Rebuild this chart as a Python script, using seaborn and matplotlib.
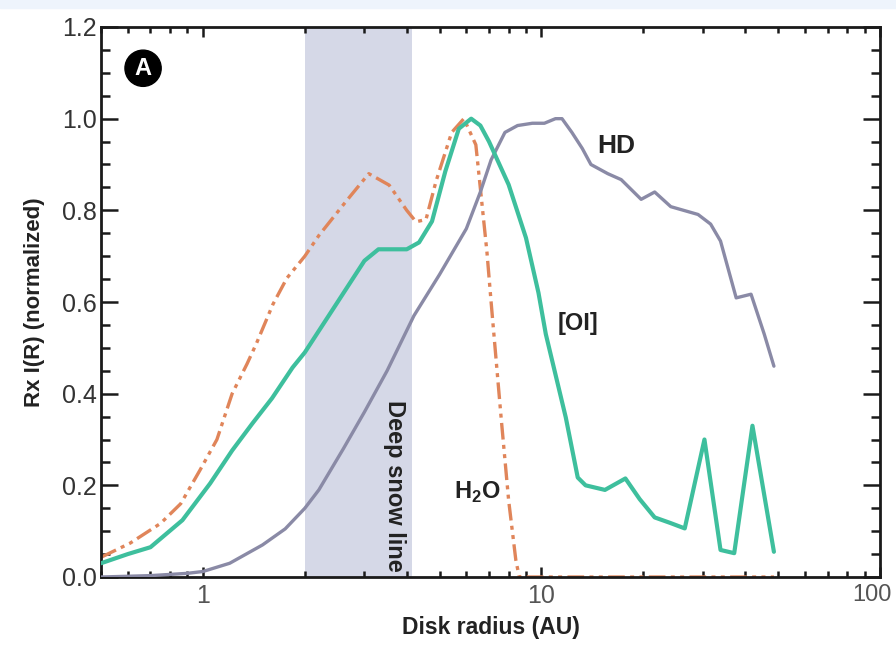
import matplotlib
matplotlib.use("Agg")
import matplotlib.pyplot as plt
import seaborn as sns
import pandas as pd
from matplotlib.ticker import FixedLocator, NullFormatter, MultipleLocator
from matplotlib.patches import Rectangle
from matplotlib.transforms import ScaledTranslation

# ---- data ----
hd_x = [0.5, 0.7, 0.9, 1.0, 1.2, 1.5, 1.75, 2.0, 2.2, 2.6, 3.0, 3.5, 4.2, 5.0, 6.0, 6.6,
        7.1, 7.8, 8.5, 9.4, 10.2, 11.0, 11.5, 12.3, 13.2, 14.0, 15.7, 17.2, 19.7, 21.6,
        24.1, 29.0, 31.6, 33.8, 37.6, 41.6, 45.5, 48.6]
hd_y = [0.0, 0.003, 0.008, 0.012, 0.03, 0.07, 0.105, 0.15, 0.19, 0.28, 0.36, 0.45, 0.57,
        0.66, 0.76, 0.84, 0.91, 0.97, 0.985, 0.99, 0.99, 1.0, 1.0, 0.97, 0.935, 0.90, 0.88,
        0.867, 0.824, 0.84, 0.808, 0.791, 0.77, 0.733, 0.609, 0.617, 0.53, 0.46]

oi_x = [0.5, 0.6, 0.7, 0.87, 1.05, 1.22, 1.4, 1.6, 1.84, 2.0, 2.2, 2.5, 3.0, 3.3, 3.7,
        4.0, 4.35, 4.75, 5.2, 5.7, 6.2, 6.6, 7.0, 8.0, 9.0, 9.8, 10.3, 11.8, 12.8, 13.5,
        15.4, 17.7, 19.5, 21.6, 24.0, 26.5, 30.3, 33.8, 37.1, 42.0, 48.6]
oi_y = [0.03, 0.05, 0.065, 0.124, 0.204, 0.276, 0.335, 0.39, 0.457, 0.49, 0.537, 0.60,
        0.69, 0.715, 0.715, 0.715, 0.73, 0.776, 0.885, 0.978, 1.0, 0.985, 0.95, 0.856,
        0.74, 0.62, 0.53, 0.348, 0.217, 0.2, 0.19, 0.215, 0.17, 0.13, 0.118, 0.106, 0.30,
        0.059, 0.052, 0.33, 0.055]

h2o_x = [0.5, 0.61, 0.75, 0.86, 0.98, 1.1, 1.22, 1.35, 1.44, 1.61, 1.77, 2.0, 2.2, 2.65,
         3.09, 3.55, 4.0, 4.26, 4.56, 4.88, 5.43, 5.9, 6.4, 6.66, 6.9, 7.1, 7.6, 8.0, 8.4,
         8.6, 10.0, 20.0, 48.6]
h2o_y = [0.043, 0.074, 0.117, 0.16, 0.233, 0.30, 0.40, 0.465, 0.51, 0.595, 0.652, 0.70,
         0.745, 0.82, 0.88, 0.855, 0.80, 0.775, 0.78, 0.863, 0.97, 1.0, 0.943, 0.82, 0.71,
         0.60, 0.348, 0.167, 0.037, 0.0, 0.0, 0.0, 0.0]

snow_line = [2.0, 4.15]
x_ticks = [1, 10, 100]
x_ticklabels = ["1", "10", "100"]
y_ticks = [0.0, 0.2, 0.4, 0.6, 0.8, 1.0, 1.2]
y_ticklabels = ["0.0", "0.2", "0.4", "0.6", "0.8", "1.0", "1.2"]

# ---- style ----
sns.set_style("ticks")
plt.rcParams['font.family'] = ['Liberation Sans', 'DejaVu Sans']
plt.rcParams['mathtext.fontset'] = 'custom'
plt.rcParams['mathtext.rm'] = 'Liberation Sans'
plt.rcParams['mathtext.bf'] = 'Liberation Sans:bold'

C_HD = "#8a8aa6"
C_OI = "#3ebf9d"
C_H2O = "#e0855a"
C_BAND = "#d5d8e7"
TXT = "#222222"

fig = plt.figure(figsize=(8.96, 6.5), dpi=100)
fig.patches.append(Rectangle((0, 1 - 8 / 650), 1, 8 / 650, transform=fig.transFigure,
                             color="#eef4fc", zorder=0))
ax = fig.add_axes([101 / 896, 1 - 577 / 650, 779 / 896, 550 / 650])

ax.axvspan(snow_line[0], snow_line[1], color=C_BAND, lw=0, zorder=0)

df_hd = pd.DataFrame({"x": hd_x, "y": hd_y})
df_oi = pd.DataFrame({"x": oi_x, "y": oi_y})
df_h2o = pd.DataFrame({"x": h2o_x, "y": h2o_y})

sns.lineplot(data=df_hd, x="x", y="y", ax=ax, color=C_HD, lw=2.4, sort=False, zorder=3)
sns.lineplot(data=df_h2o, x="x", y="y", ax=ax, color=C_H2O, lw=2.4, sort=False, zorder=2)
ax.lines[-1].set_dashes([5, 1.6, 1.2, 1.6, 1.2, 1.6])
sns.lineplot(data=df_oi, x="x", y="y", ax=ax, color=C_OI, lw=3.0, sort=False, zorder=4)

ax.set_xscale("log")
ax.set_xlim(0.5, 100)
ax.set_ylim(0, 1.2)

ax.xaxis.set_major_locator(FixedLocator(x_ticks))
ax.set_xticklabels(x_ticklabels)
minor_x = [m * d for d in (0.1, 1, 10) for m in range(2, 10)]
ax.xaxis.set_minor_locator(FixedLocator(minor_x))
ax.xaxis.set_minor_formatter(NullFormatter())
ax.yaxis.set_major_locator(FixedLocator(y_ticks))
ax.set_yticklabels(y_ticklabels)
ax.yaxis.set_minor_locator(MultipleLocator(0.05))

for s in ax.spines.values():
    s.set_visible(True)
    s.set_linewidth(2.0)
    s.set_color("#1a1a1a")

ax.tick_params(axis="both", which="both", direction="in", top=True, right=True,
               color="#1a1a1a", width=1.8)
ax.tick_params(axis="y", which="major", length=12, labelsize=18, pad=3, labelcolor="#333333")
ax.tick_params(axis="y", which="minor", length=6.5)
ax.tick_params(axis="x", which="major", length=7, labelsize=18, pad=5, labelcolor="#555555")
ax.tick_params(axis="x", which="minor", length=4.5)

# keep the "100" label inside the figure, as in the reference
last = ax.get_xticklabels()[-1]
last.set_transform(last.get_transform() + ScaledTranslation(-6 / 72, 0, fig.dpi_scale_trans))
last.set_fontsize(17)

ax.set_xlabel("Disk radius (AU)", fontsize=16.5, fontweight="bold", color=TXT, labelpad=6)
ax.set_ylabel("Rx I(R) (normalized)", fontsize=16, fontweight="bold", color=TXT, labelpad=12)

ax.text(14.6, 0.94, "HD", fontsize=19, fontweight="bold", color=TXT, va="center", ha="left")
ax.text(11.2, 0.554, "[OI]", fontsize=17, fontweight="bold", color=TXT, va="center", ha="left")
ax.text(6.45, 0.185, r"H$_\mathbf{2}$O", fontsize=17, fontweight="bold", color=TXT,
        va="center", ha="center")
ax.text(3.67, 0.012, "Deep snow line", fontsize=17, fontweight="bold", color=TXT,
        rotation=-90, va="bottom", ha="center")
ax.text(0.054, 0.925, "A", transform=ax.transAxes, fontsize=17, fontweight="bold",
        color="white", ha="center", va="center",
        bbox=dict(boxstyle="circle,pad=0.28", fc="black", ec="black"))

fig.savefig("out.png", dpi=100)
